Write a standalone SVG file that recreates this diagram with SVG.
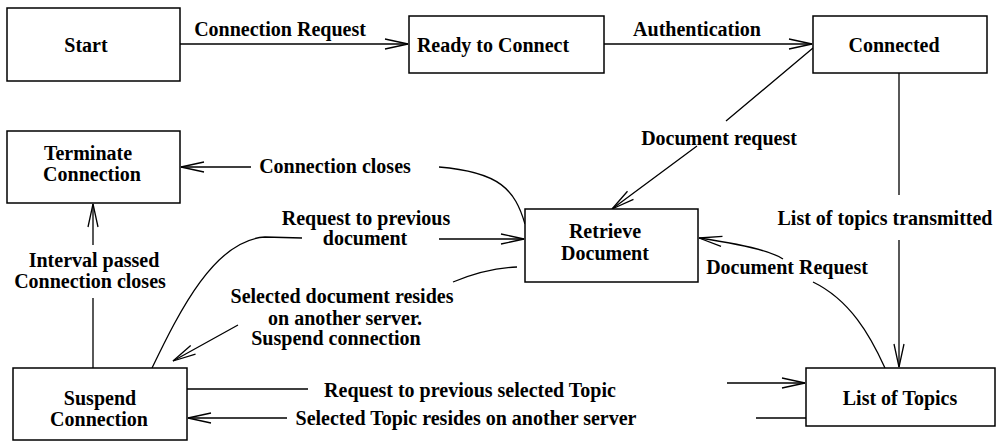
<svg xmlns="http://www.w3.org/2000/svg" width="996" height="442" viewBox="0 0 996 442">
<style>
.box{fill:#fff;stroke:#000;stroke-width:1.5}
.t{font-family:"Liberation Serif","Times New Roman",serif;font-weight:bold;font-size:20px;fill:#000;text-anchor:middle}
.c{fill:none;stroke:#000;stroke-width:1.3}
</style>
<defs>
<marker id="arr" markerUnits="userSpaceOnUse" viewBox="-25 -8 27 16" markerWidth="27" markerHeight="16" refX="0" refY="0" orient="auto">
<path d="M-23,-5 L0,0 L-23,5" fill="none" stroke="#000" stroke-width="1.3"/>
</marker>
</defs>
<g id="connectors">
<path class="c" d="M180,44 H408" marker-end="url(#arr)"/>
<path class="c" d="M604,44 H812" marker-end="url(#arr)"/>
<path class="c" d="M813,48 L726,121 M697,146 L612,209" marker-end="url(#arr)"/>
<path class="c" d="M899,73 V195 M899,240 V367" marker-end="url(#arr)"/>
<path class="c" d="M885,368 C870,335 850,300 813,282 M783,259 C770,250 740,244 699,238" marker-end="url(#arr)"/>
<path class="c" d="M525,224 C515,190 500,172 439,167 M251,167 H181" marker-end="url(#arr)"/>
<path class="c" d="M93,368 V298 M93,245 V204" marker-end="url(#arr)"/>
<path class="c" d="M152,368 C180,310 215,240 265,237 L302,238 M439,239 H524" marker-end="url(#arr)"/>
<path class="c" d="M517,267 C490,268 470,275 453,282 M238,325 L173,361" marker-end="url(#arr)"/>
<path class="c" d="M187,389 H308 M727,383 H805" marker-end="url(#arr)"/>
<path class="c" d="M806,418 H756 M287,418 H188" marker-end="url(#arr)"/>
</g>
<g id="lbl">
<text class="t" x="280" y="36">Connection Request</text>
<text class="t" x="697" y="36">Authentication</text>
<text class="t" x="719" y="145">Document request</text>
<text class="t" x="885" y="225">List of topics transmitted</text>
<text class="t" x="787" y="274">Document Request</text>
<text class="t" x="335" y="173">Connection closes</text>
<text class="t" x="366" y="225">Request to previous</text>
<text class="t" x="365" y="245">document</text>
<text class="t" x="94" y="267">Interval passed</text>
<text class="t" x="90" y="288">Connection closes</text>
<text class="t" x="342" y="303">Selected document resides</text>
<text class="t" x="345" y="325">on another server.</text>
<text class="t" x="336" y="345">Suspend connection</text>
<text class="t" x="470" y="397">Request to previous selected Topic</text>
<text class="t" x="466" y="425">Selected Topic resides on another server</text>
</g>
<g id="start"><rect class="box" x="7" y="8" width="173" height="73"/><text class="t" x="86" y="52">Start</text></g>
<g id="ready"><rect class="box" x="409" y="16" width="195" height="57"/><text class="t" x="493" y="52">Ready to Connect</text></g>
<g id="connected"><rect class="box" x="813" y="16" width="174" height="57"/><text class="t" x="894" y="52">Connected</text></g>
<g id="terminate"><rect class="box" x="7" y="131" width="173" height="72"/><text class="t" x="88" y="160">Terminate</text><text class="t" x="92" y="181">Connection</text></g>
<g id="retrieve"><rect class="box" x="525" y="209" width="173" height="73"/><text class="t" x="605" y="238">Retrieve</text><text class="t" x="605" y="260">Document</text></g>
<g id="suspend"><rect class="box" x="13" y="368" width="174" height="72"/><text class="t" x="100" y="405">Suspend</text><text class="t" x="99" y="426">Connection</text></g>
<g id="topics"><rect class="box" x="806" y="368" width="189" height="58"/><text class="t" x="900" y="405">List of Topics</text></g>
</svg>
